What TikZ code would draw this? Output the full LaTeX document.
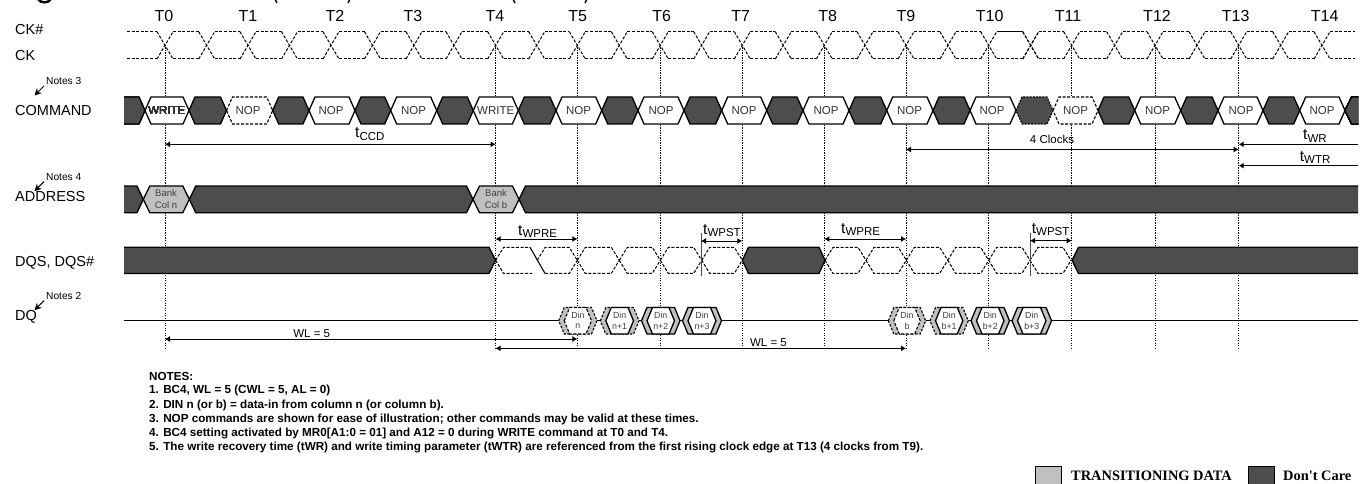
\documentclass[tikz,border=0pt]{standalone}
\usepackage{fontspec}
\setmainfont{Liberation Sans}
\newfontfamily\serifb{Liberation Serif}[BoldFont={Liberation Serif Bold}]
\usetikzlibrary{arrows.meta}
\definecolor{dk}{HTML}{4D4D4D}
\definecolor{lg}{HTML}{C0C0C0}
\newcommand{\fs}[1]{\fontsize{#1}{#1}\selectfont}
\newcommand{\tdim}[3]{\node[anchor=base west,inner sep=0pt] (#1) at #2 {\fs{15.5}t\fs{11.5}\raisebox{-2.5pt}{#3}};}
\newcommand{\hexa}[6]{% style, a, b, top, bot, slant
  \path[#1] (#2,{(#4+#5)/2}) -- (#2+#6,#4) -- (#3-#6,#4) -- (#3,{(#4+#5)/2}) -- (#3-#6,#5) -- (#2+#6,#5) -- cycle;}
\newcommand{\din}[6]{% outer style, inner style, a, b, name, sub
  \hexa{#1}{#3}{#4}{307.5}{334}{5.5}
  \hexa{#2}{#3+5.5}{#4-5.5}{307.5}{334}{5.5}
  \node[din] (din#5) at ({(#3+#4)/2},320.7) {};
  \node[dintxt] (dina#5) at ({(#3+#4)/2},315) {Din};
  \node[dintxt] (dinb#5) at ({(#3+#4)/2},326.5) {#6};}
\tikzset{
  lab/.style={anchor=west,inner sep=0pt,font=\fs{14.5}},
  tlab/.style={inner sep=0pt,font=\fs{16}},
  notelab/.style={anchor=west,inner sep=0pt,font=\fs{10.2}},
  notearrow/.style={line width=1pt,-{Stealth[length=7pt,width=7pt]}},
  clk/.style={line width=1pt,dash pattern=on 3pt off 1.6pt},
  tline/.style={line width=1pt,dash pattern=on 1.2pt off 1.3pt},
  dkhex/.style={fill=dk,draw=black,line width=1.3pt},
  dkdash/.style={fill=dk,draw=black,line width=1.1pt,dash pattern=on 2pt off 1.2pt},
  wthex/.style={fill=white,draw=black,line width=1.3pt},
  wtdash/.style={fill=white,draw=black,line width=1.1pt,dash pattern=on 3pt off 1.6pt},
  lghex/.style={fill=lg,draw=black,line width=1.3pt},
  lgdash/.style={fill=lg,draw=black,line width=1.1pt,dash pattern=on 2.4pt off 1.6pt},
  dimline/.style={line width=1pt,{Latex[length=5pt,width=6pt]}-{Latex[length=5pt,width=6pt]}},
  cmdtxt/.style={inner sep=0pt,font=\fs{11.5},text=black!80},
  dintxt/.style={inner sep=0pt,font=\fs{8.8},text=black!75},
  din/.style={inner sep=0pt,minimum size=0pt},
  notetxt/.style={anchor=west,inner sep=0pt,font=\fs{11.68}\bfseries},
  legtxt/.style={anchor=west,inner sep=0pt,font=\serifb\fs{14.4}\bfseries},
  smalltxt/.style={inner sep=0pt,font=\fs{11.5}},
  legbox/.style={draw=black,line width=1pt}
}
\begin{document}
\begin{tikzpicture}[x=1pt,y=-1pt]
\useasboundingbox (0,0) rectangle (1368,484);
\clip (0,0) rectangle (1368,484);
% time coordinates
\foreach \n/\x in {T0/165,T1/248,T2/331,T3/414,T4/495.6,T5/577.4,T6/660.3,T7/742.3,T8/824.3,T9/906,T10/988.7,T11/1071.7,T12/1155,T13/1238.7,T14/1322}
  \coordinate (\n) at (\x,0);
\coordinate (Wa) at (701,0);
\coordinate (Wb) at (1030,0);
\coordinate (Rend) at (1358,0);
% cut-off title strokes
\draw[line width=2.4pt] (38,-1) .. controls (40,3.5) and (49,3.5) .. (51,-1);
\foreach \x/\b in {275/1,513/1} \draw[line width=1.5pt] (\x,-1) -- (\x+2,3);
\foreach \x/\b in {350/1,587/1} \draw[line width=1.5pt] (\x,-1) -- (\x-2,3);
% T labels
\foreach \n/\x in {0/164,1/248,2/335,3/413,4/495,5/577.7,6/661.7,7/740.7,8/827.7,9/906,10/989.7,11/1068,12/1157,13/1235.7,14/1324.7}
  \node[tlab] (lbl\n) at (\x,16) {T\n};
% left labels
\node[lab] (ckn) at (15,30) {CK\#};
\node[lab] (ck) at (15,56) {CK};
\node[lab] (cmd) at (15,111) {COMMAND};
\node[lab] (addr) at (15,197) {ADDRESS};
\node[lab] (dqs) at (15,263) {DQS, DQS\#};
\node[lab] (dq) at (15,317) {DQ};
\foreach \nm/\t/\y in {n3/3/81,n4/4/176.7,n2/2/295.7}{
  \node[notelab] (\nm) at (46,\y) {Notes \t};
  \coordinate (\nm a) at (44,\y+5);
  \coordinate (\nm b) at (34.5,\y+14.5);
  \draw[notearrow] (\nm a) -- (\nm b);
}
% vertical T lines
\foreach \n in {T0,T4,T5,T6,T7,T8,T9,T10,T11,T12,T13}
  \draw[tline] (\n |- 0,45) -- (\n |- 0,350);
% clocks
\draw[clk] (127,31.7) -- (157,31.7) (127,59) -- (157,59);
\foreach \c/\nx in {165/206.7,206.7/248,248/289.5,289.5/331,331/372.5,372.5/414,414/454,454/495.7,495.7/536.7,536.7/577.3,577.3/619.3,619.3/660.3,660.3/701.7,701.7/742.3,742.3/783.3,783.3/824.3,824.3/865,865/906,906/948,948/988.7,1030.7/1071.7,1071.7/1114.7,1114.7/1155,1155/1197,1197/1238.7,1238.7/1280.7,1280.7/1322}{
  \draw[clk] (\c-8,31.7) -- (\c+8,59) (\c-8,59) -- (\c+8,31.7);
  \draw[clk] (\c+8,31.7) -- (\nx-8,31.7) (\c+8,59) -- (\nx-8,59);
}
\draw[clk] (988.7-8,31.7) -- (988.7+8,59) (988.7-8,59) -- (988.7+8,31.7);
\draw[clk] (988.7+8,59) -- (1030.7-8,59);
\draw[line width=1.1pt] (988.7+8,31.7) -- (1030.7-8,31.7);
\draw[clk] (1030.7-8,31.7) -- (1030.7+8,59) (1030.7-8,59) -- (1030.7+8,31.7);
\draw[clk] (1322-8,31.7) -- (1322+8,59) (1322-8,59) -- (1322+8,31.7);
\draw[clk] (1330,31.7) -- (1355,31.7) (1330,59) -- (1355,59);
% COMMAND bus
\hexa{dkdash}{1016}{1053}{97}{124}{6}
\foreach \a/\b in {226.5/272.7,1053/1098}
  \hexa{wtdash}{\a}{\b}{97}{124}{6}
\path[dkhex] (124,97) -- (139,97) -- (145,110.5) -- (139,124) -- (124,124);
\foreach \a/\b in {189/226.5,272.7/309,355/390.7,436.7/473.3,518.3/556,601.7/638,684/721.7,766.7/803,849/886.7,933/970,1098/1134.7,1180.7/1218,1263/1299.7}
  \hexa{dkhex}{\a}{\b}{97}{124}{6}
\path[dkhex] (1358,97) -- (1351.7,97) -- (1345,110.5) -- (1351.7,124) -- (1358,124);
\foreach \a/\b in {145/189,473.3/518.3,309/355,390.7/436.7,556/601.7,638/684,721.7/766.7,803/849,886.7/933,970/1016,1134.7/1180.7,1218/1263,1299.7/1345}
  \hexa{wthex}{\a}{\b}{97}{124}{6}
\node[cmdtxt] (w0) at (166.8,110.5) {WRITE};
\node[cmdtxt] (w4) at (495.7,110.5) {WRITE};
\foreach \k/\x in {1/248,2/331,3/413.5,5/578.5,6/661,7/744,8/826,9/909.5,10/992,11/1075.5,12/1157.5,13/1241,14/1322}
  \node[cmdtxt] (nop\k) at (\x,110.5) {NOP};
% ADDRESS bus
\path[dkhex] (124,186) -- (137,186) -- (143.3,199.3) -- (137,212.7) -- (124,212.7);
\hexa{dkhex}{189.3}{473}{186}{212.7}{6.5}
\path[dkhex] (1358,186) -- (525.5,186) -- (519,199.3) -- (525.5,212.7) -- (1358,212.7);
\hexa{lghex}{143.3}{189.3}{186}{212.7}{6.5}
\hexa{lghex}{473}{519}{186}{212.7}{6.5}
\node[dintxt,font=\fs{9.5}] (b0) at (166,193) {Bank};
\node[dintxt,font=\fs{9.5}] (c0) at (166,205.5) {Col n};
\node[dintxt,font=\fs{9.5}] (b4) at (496,193) {Bank};
\node[dintxt,font=\fs{9.5}] (c4) at (496,205.5) {Col b};
% DQS
\path[dkhex] (124,247.3) -- (489,247.3) -- (495.6,260.3) -- (489,273.4) -- (124,273.4);
\path[dkhex] (825,260.3) -- (819,273.4) -- (748.5,273.4) -- (742.3,260.3) -- (748.5,247.3) -- (819,247.3) -- cycle;
\path[dkhex] (1358,247.3) -- (1078.5,247.3) -- (1072,260.3) -- (1078.5,273.4) -- (1358,273.4);
% DQS dashed clocks
\draw[clk] (495.6,260.3) -- (503.6,247.3) -- (530,247.3);
\draw[clk] (495.6,260.3) -- (503.6,273.4) -- (532,273.4);
\draw[line width=1.1pt] (530,247.3) -- (545,273.4);
\draw[clk] (537.2,260.3) -- (545.2,247.3) -- (569.3,247.3) -- (577.3,260.3);
\draw[clk] (545.2,273.4) -- (569.3,273.4) -- (577.3,260.3);
\foreach \c/\nx in {577.3/619.3,619.3/660.3,660.3/701.7,701.7/742.3,825/866,866/906.3,906.3/947.7,947.7/988.7,988.7/1030,1030/1071}{
  \draw[clk] (\c,260.3) -- (\c+8,247.3) -- (\nx-8,247.3) -- (\nx,260.3);
  \draw[clk] (\c,260.3) -- (\c+8,273.4) -- (\nx-8,273.4) -- (\nx,260.3);
}
\draw[line width=1pt,black!70] (Wa |- 0,233) -- (Wa |- 0,276);
\draw[line width=1pt,black!70] (Wb |- 0,233) -- (Wb |- 0,276);
% DQ line and data
\coordinate (dqa) at (124,320.7);
\coordinate (dqb) at (1358,320.7);
\draw[line width=1.2pt] (dqa) -- (dqb);
\din{lgdash}{wtdash}{558.7}{597}{n}{n}
\din{lgdash}{wthex}{600.3}{639}{n1}{n+1}
\din{lghex}{wthex}{641.5}{680}{n2}{n+2}
\din{lghex}{wthex}{682.5}{721.5}{n3}{n+3}
\din{lgdash}{wtdash}{888.3}{925.7}{b}{b}
\din{lgdash}{wthex}{930}{968.3}{b1}{b+1}
\din{lghex}{wthex}{971}{1009.5}{b2}{b+2}
\din{lghex}{wthex}{1012}{1051.5}{b3}{b+3}
% dimension arrows
\draw[dimline] (T0 |- 0,144.3) -- (T4 |- 0,144.3);
\tdim{tccd}{(355,138)}{CCD}
\draw[dimline] (T9 |- 0,149.5) -- (T13 |- 0,149.5);
\node[smalltxt] (clk4) at (1052,139) {4 Clocks};
\draw[line width=1pt,{Latex[length=5pt,width=6pt]}-] (T13 |- 0,144.3) -- (Rend |- 0,144.3);
\tdim{twr}{(1303,140)}{WR}
\draw[line width=1pt,{Latex[length=5pt,width=6pt]}-] (T13 |- 0,165.7) -- (Rend |- 0,165.7);
\tdim{twtr}{(1299.7,161)}{WTR}
\draw[dimline] (T4 |- 0,239) -- (T5 |- 0,239);
\tdim{twpa}{(518,235)}{WPRE}
\draw[dimline] (Wa |- 0,241) -- (T7 |- 0,241);
\tdim{twsa}{(703,234)}{WPST}
\draw[dimline] (T8 |- 0,239) -- (T9 |- 0,239);
\tdim{twpb}{(841,233)}{WPRE}
\draw[dimline] (Wb |- 0,240.7) -- (T11 |- 0,240.7);
\tdim{twsb}{(1031.7,233)}{WPST}
\draw[dimline] (T0 |- 0,339) -- (T5 |- 0,339);
\node[smalltxt] (wla) at (311.7,333.3) {WL = 5};
\draw[dimline] (T4 |- 0,348.3) -- (T9 |- 0,348.3);
\node[smalltxt] (wlb) at (768.5,343) {WL = 5};
% notes
\node[notetxt] (nt0) at (149,376.7) {NOTES:};
\node[notetxt] (nt1) at (149,390.7) {1. BC4, WL = 5 (CWL = 5, AL = 0)};
\node[notetxt] (nt2) at (149,405) {2. DIN n (or b) = data-in from column n (or column b).};
\node[notetxt] (nt3) at (149,419.3) {3. NOP commands are shown for ease of illustration; other commands may be valid at these times.};
\node[notetxt] (nt4) at (149,433.3) {4. BC4 setting activated by MR0[A1:0 = 01] and A12 = 0 during WRITE command at T0 and T4.};
\node[notetxt] (nt5) at (149,447.3) {5. The write recovery time (tWR) and write timing parameter (tWTR) are referenced from the first rising clock edge at T13 (4 clocks from T9).};
% legend
\path[legbox,fill=lg] (1035,466) rectangle (1061,486);
\node[legtxt] (lt) at (1071,475.5) {TRANSITIONING DATA};
\path[legbox,fill=dk] (1248,466) rectangle (1274,486);
\node[legtxt] (ld) at (1283,475.5) {Don't Care};
\end{tikzpicture}
\end{document}
